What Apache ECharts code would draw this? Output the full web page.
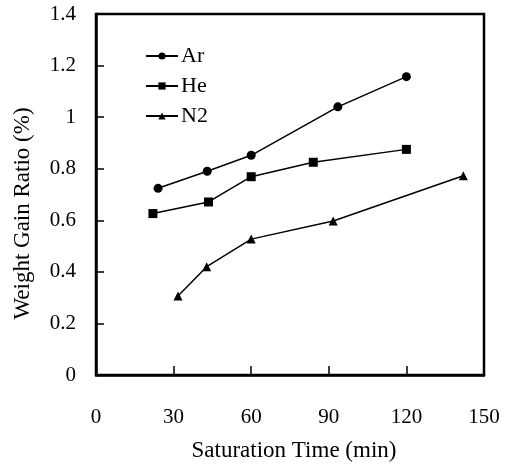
<!DOCTYPE html>
<html>
<head>
<meta charset="utf-8">
<script src="https://cdn.jsdelivr.net/npm/echarts@6/dist/echarts.min.js"></script>
<style>
  html, body { margin: 0; padding: 0; background: #fff; }
  #chart { width: 515px; height: 465px; }
</style>
</head>
<body>
<div id="chart"></div>
<script>
// Weight gain ratio vs. saturation time for three gases
const arTime = [24, 43, 60, 93.5, 120];
const arGain = [0.724, 0.79, 0.852, 1.04, 1.157];
const heTime = [22, 43.5, 60, 84, 120];
const heGain = [0.626, 0.671, 0.769, 0.825, 0.875];
const n2Time = [31.7, 42.8, 60, 91.7, 142];
const n2Gain = [0.306, 0.42, 0.527, 0.597, 0.773];
const xTicks = [0, 30, 60, 90, 120, 150];
const yTicks = [0, 0.2, 0.4, 0.6, 0.8, 1, 1.2, 1.4];

const pairs = (xs, ys) => xs.map((x, i) => [x, ys[i]]);
const font = 'Liberation Serif';

const chart = echarts.init(document.getElementById('chart'));

function series(name, xs, ys, symbol, size) {
  return {
    name: name,
    type: 'line',
    data: pairs(xs, ys),
    symbol: symbol,
    symbolSize: size,
    lineStyle: { color: '#000', width: 1.5 },
    itemStyle: { color: '#000' },
    animation: false
  };
}

chart.setOption({
  animation: false,
  grid: {
    left: 96, top: 14, right: 31, bottom: 90,
    outerBoundsMode: 'none',
    containLabel: false,
    show: true, borderColor: '#000', borderWidth: 2.5
  },
  legend: {
    orient: 'vertical',
    left: 145, top: 45,
    padding: 0,
    itemWidth: 32, itemHeight: 9,
    itemGap: 8,
    textStyle: { fontFamily: font, fontSize: 22, color: '#000', padding: [0, 0, 0, -2] },
    data: ['Ar', 'He', 'N2']
  },
  xAxis: {
    type: 'value',
    min: 0, max: 150, interval: 30,
    name: 'Saturation Time (min)',
    nameLocation: 'middle',
    nameGap: 64,
    nameTextStyle: { fontFamily: font, fontSize: 23, color: '#000', padding: [0, 0, 0, 8] },
    axisLine: { lineStyle: { color: '#000', width: 2.5 } },
    axisTick: { inside: true, length: 9, lineStyle: { color: '#000', width: 1.5 } },
    axisLabel: {
      fontFamily: font, fontSize: 21, color: '#000', margin: 32,
      formatter: v => xTicks.includes(v) ? String(v) : ''
    },
    splitLine: { show: false }
  },
  yAxis: {
    type: 'value',
    min: 0, max: 1.4, interval: 0.2,
    name: 'Weight Gain Ratio (%)',
    nameLocation: 'middle',
    nameGap: 62,
    nameTextStyle: { fontFamily: font, fontSize: 23, color: '#000', padding: [0, 38, 0, 0] },
    axisLine: { lineStyle: { color: '#000', width: 2.5 } },
    axisTick: { inside: true, length: 8, lineStyle: { color: '#000', width: 1.5 } },
    axisLabel: {
      fontFamily: font, fontSize: 21, color: '#000', margin: 20,
      formatter: v => {
        const t = yTicks.find(y => Math.abs(y - v) < 1e-6);
        return t === undefined ? '' : String(t);
      }
    },
    splitLine: { show: false }
  },
  series: [
    series('Ar', arTime, arGain, 'circle', 9),
    series('He', heTime, heGain, 'rect', 9),
    series('N2', n2Time, n2Gain, 'triangle', 9)
  ]
});
</script>
</body>
</html>
